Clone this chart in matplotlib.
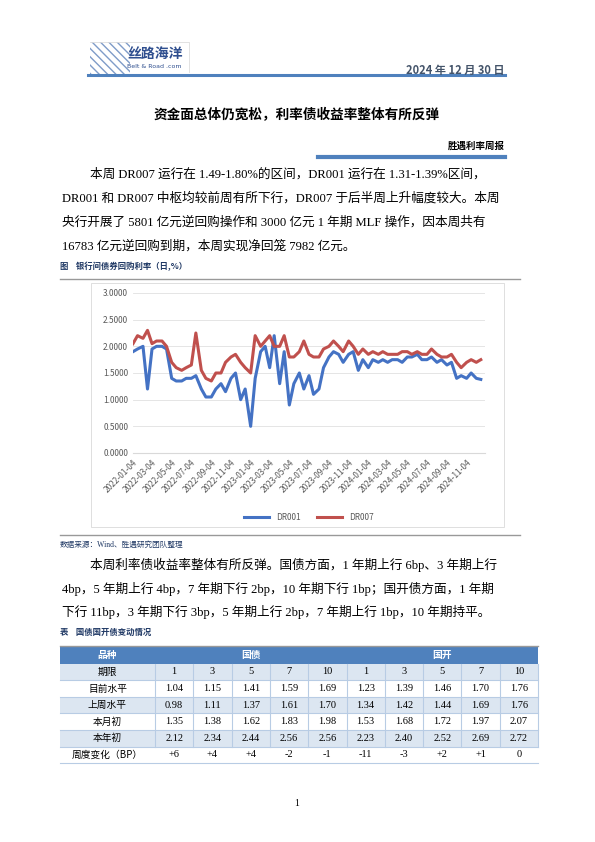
import numpy as np
import pandas as pd
import matplotlib
matplotlib.use("Agg")
import matplotlib.pyplot as plt
import matplotlib.dates as mdates

plt.rcParams['font.family'] = ['Noto Sans CJK SC', 'DejaVu Sans']

# semi-monthly readings, Jan 2022 - Dec 2024
dr001 = [1.90, 1.95, 2.00, 1.20, 1.95, 2.00, 2.00, 1.95, 1.40, 1.35, 1.35, 1.40,
         1.40, 1.45, 1.20, 1.05, 1.05, 1.20, 1.30, 1.15, 1.40, 1.50, 1.00, 1.20,
         0.50, 1.40, 1.90, 2.00, 1.60, 2.20, 1.30, 1.90, 0.90, 1.30, 1.50, 1.20,
         1.45, 1.10, 1.20, 1.60, 1.80, 1.90, 1.85, 1.70, 1.85, 1.90, 1.55, 1.75,
         1.60, 1.75, 1.70, 1.75, 1.70, 1.75, 1.75, 1.70, 1.80, 1.80, 1.85, 1.75,
         1.75, 1.80, 1.70, 1.75, 1.65, 1.70, 1.40, 1.45, 1.40, 1.50, 1.40, 1.38]
dr007 = [2.05, 2.20, 2.15, 2.30, 2.05, 2.10, 2.10, 2.00, 1.70, 1.60, 1.55, 1.60,
         1.65, 2.25, 1.55, 1.40, 1.35, 1.50, 1.50, 1.70, 1.80, 1.85, 1.70, 1.60,
         1.50, 2.20, 2.00, 2.10, 2.20, 2.00, 2.00, 2.20, 1.80, 1.80, 1.90, 2.10,
         1.85, 1.80, 1.80, 1.95, 2.00, 2.10, 2.00, 1.90, 2.10, 2.00, 1.85, 1.95,
         1.85, 1.90, 1.85, 1.90, 1.85, 1.85, 1.85, 1.90, 1.90, 1.85, 1.90, 1.85,
         1.85, 1.95, 1.85, 1.80, 1.80, 1.85, 1.70, 1.60, 1.70, 1.75, 1.70, 1.75]
dates = pd.date_range('2022-01-01', periods=72, freq='SMS') + pd.Timedelta(days=3)

tbl_cols = ['1', '3', '5', '7', '10', '1', '3', '5', '7', '10']
tbl_rows = ['目前水平', '上周水平', '本月初', '本年初', '周度变化（BP）']
tbl_vals = [
    ['1.04', '1.15', '1.41', '1.59', '1.69', '1.23', '1.39', '1.46', '1.70', '1.76'],
    ['0.98', '1.11', '1.37', '1.61', '1.70', '1.34', '1.42', '1.44', '1.69', '1.76'],
    ['1.35', '1.38', '1.62', '1.83', '1.98', '1.53', '1.68', '1.72', '1.97', '2.07'],
    ['2.12', '2.34', '2.44', '2.56', '2.56', '2.23', '2.40', '2.52', '2.69', '2.72'],
    ['+6', '+4', '+4', '-2', '-1', '-11', '-3', '+2', '+1', '0'],
]

BLUE = '#4F81BD'
SERIF = ['Liberation Serif', 'Noto Sans CJK SC']
W, H = 595, 842
fig = plt.figure(figsize=(5.95, 8.42), dpi=100)
pg = fig.add_axes([0, 0, 1, 1])
pg.set_xlim(0, W)
pg.set_ylim(H, 0)
pg.axis('off')

# header / logo
pg.add_patch(plt.Rectangle((90, 42), 40, 32, fill=False, hatch='\\\\\\\\', edgecolor='#7F9CC8', lw=0))
pg.plot([90, 189, 189], [42, 42, 72], color='#DDDDDD', lw=0.6)
pg.text(127, 54, '丝路海洋', fontsize=10, fontweight='bold', color='#2F4F8F', va='center')
pg.text(127, 66, 'Belt & Road .com', fontsize=4.5, color='#2F4F8F', va='center', family='DejaVu Sans')
pg.text(505, 70, '2024 年 12 月 30 日', fontsize=8, fontweight='bold', color='#44546A', ha='right', va='center')
pg.plot([88, 505], [74.5, 74.5], color=BLUE, lw=2.2)
pg.text(297, 115, '资金面总体仍宽松，利率债收益率整体有所反弹', fontsize=9.8, fontweight='bold', ha='center', va='center')
pg.text(505, 146, '胜遇利率周报', fontsize=6.8, fontweight='bold', ha='right', va='center')
pg.plot([318, 505], [157, 157], color=BLUE, lw=3)

para1 = ['本周 DR007 运行在 1.49-1.80%的区间，DR001 运行在 1.31-1.39%区间，',
         'DR001 和 DR007 中枢均较前周有所下行，DR007 于后半周上升幅度较大。本周',
         '央行开展了 5801 亿元逆回购操作和 3000 亿元 1 年期 MLF 操作，因本周共有',
         '16783 亿元逆回购到期，本周实现净回笼 7982 亿元。']
for i, s in enumerate(para1):
    pg.text(90 if i == 0 else 62, 174 + i * 24.3, s, fontsize=9.1, va='center', family=SERIF)

pg.text(60, 266, '图    银行间债券回购利率（日,%）', fontsize=6, fontweight='bold', color='#1F3864', va='center')
pg.plot([60, 520], [279, 279], color='#999999', lw=1)
pg.add_patch(plt.Rectangle((91, 283), 413, 244, fill=False, edgecolor='#D9D9D9', lw=0.6))
pg.plot([60, 520], [535, 535], color='#999999', lw=1)
pg.text(60, 545, '数据来源：Wind、胜遇研究团队整理', fontsize=5.5, color='#1F3864', va='center', family=SERIF)

para2 = ['本周利率债收益率整体有所反弹。国债方面，1 年期上行 6bp、3 年期上行',
         '4bp，5 年期上行 4bp，7 年期下行 2bp，10 年期下行 1bp；国开债方面，1 年期',
         '下行 11bp，3 年期下行 3bp，5 年期上行 2bp，7 年期上行 1bp，10 年期持平。']
for i, s in enumerate(para2):
    pg.text(90 if i == 0 else 62, 565 + i * 23.5, s, fontsize=9.1, va='center', family=SERIF)

pg.text(60, 632, '表    国债国开债变动情况', fontsize=6, fontweight='bold', color='#1F3864', va='center')
pg.plot([60, 538], [646, 646], color='#999999', lw=1)

# table
x0, xl, x1 = 60, 155, 538
cw = (x1 - xl) / len(tbl_cols)
y0, rh = 647, 16.6
pg.add_patch(plt.Rectangle((x0, y0), x1 - x0, rh, color=BLUE, lw=0))
pg.text((x0 + xl) / 2, y0 + rh / 2, '品种', color='white', fontsize=7, fontweight='bold', ha='center', va='center')
pg.text(xl + 2.5 * cw, y0 + rh / 2, '国债', color='white', fontsize=7, fontweight='bold', ha='center', va='center')
pg.text(xl + 7.5 * cw, y0 + rh / 2, '国开', color='white', fontsize=7, fontweight='bold', ha='center', va='center')
rows = [['期限'] + tbl_cols] + [[r] + v for r, v in zip(tbl_rows, tbl_vals)]
for i, row in enumerate(rows):
    y = y0 + rh * (i + 1)
    if i % 2 == 0:
        pg.add_patch(plt.Rectangle((x0, y), x1 - x0, rh, color='#DCE6F1', lw=0))
    pg.text((x0 + xl) / 2, y + rh / 2, row[0], fontsize=7, ha='center', va='center')
    for j, v in enumerate(row[1:]):
        pg.text(xl + (j + 0.5) * cw, y + rh / 2, v, fontsize=7.5, ha='center', va='center', family=SERIF)
    pg.plot([x0, x1], [y + rh, y + rh], color='#B8CCE4', lw=0.8)
for j in range(len(tbl_cols) + 1):
    pg.plot([xl + j * cw] * 2, [y0 + rh, y0 + rh * 6], color='#B8CCE4', lw=0.8)
pg.text(297, 803, '1', fontsize=7, ha='center', va='center', family=SERIF)

# chart
ax = fig.add_axes([133 / W, 1 - 453 / H, (485 - 133) / W, (453 - 293) / H])
ax.plot(dates, dr001, color='#4472C4', lw=2.2, label='DR001')
ax.plot(dates, dr007, color='#C0504D', lw=2.2, label='DR007')
ax.set_ylim(0, 3)
ax.set_yticks(np.arange(0, 3.01, 0.5))
ax.yaxis.set_major_formatter(plt.FuncFormatter(lambda v, p: f'{v:.4f}'))
ax.set_xlim(pd.Timestamp('2022-01-04'), pd.Timestamp('2024-12-31'))
ax.set_xticks(pd.date_range('2022-01-01', '2024-11-30', freq='2MS') + pd.Timedelta(days=3))
ax.xaxis.set_major_formatter(mdates.DateFormatter('%Y-%m-%d'))
plt.setp(ax.get_xticklabels(), rotation=45, ha='right', rotation_mode='anchor')
ax.tick_params(labelsize=6, colors='#595959', length=0)
ax.grid(axis='y', color='#E0E0E0', lw=0.6)
for s in ['top', 'right', 'left']:
    ax.spines[s].set_visible(False)
ax.spines['bottom'].set_color('#D9D9D9')
ax.legend(loc='upper center', bbox_to_anchor=(0.5, -0.33), ncol=2, frameon=False, fontsize=6,
          labelcolor='#595959', handlelength=3)

fig.savefig('out.png', dpi=100)
